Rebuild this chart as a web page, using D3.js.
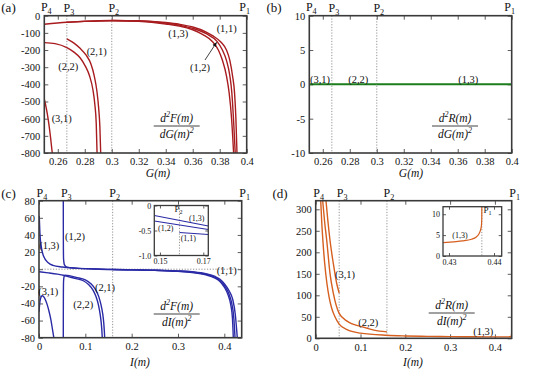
<!DOCTYPE html>
<html>
<head>
<meta charset="utf-8">
<script src="https://cdn.jsdelivr.net/npm/d3@7"></script>
<style>
body{margin:0;background:#fff;}
text{font-family:"Liberation Serif","DejaVu Serif",serif;fill:#111;}
</style>
</head>
<body>
<svg id="fig" width="535" height="371"></svg>
<script>
// phase points P4,P3,P2,P1
var PG = [0.25, 0.2667, 0.3, 0.4];
var PI = [0, 0.0524, 0.159, 0.4373];

// (a) d2F/dG2
var a13 = [[0.25,-50],[0.2667,-38],[0.28,-33],[0.30,-29],[0.32,-33],[0.34,-48],[0.35,-60],[0.36,-82],[0.3675,-110],[0.3745,-150],[0.379,-200],[0.382,-260],[0.385,-350],[0.387,-450],[0.3888,-600],[0.3903,-800]];
var a12 = [[0.2667,-38],[0.28,-32],[0.30,-28],[0.32,-31],[0.34,-43],[0.35,-55],[0.36,-74],[0.37,-105],[0.378,-150],[0.382,-200],[0.385,-260],[0.3875,-350],[0.389,-450],[0.3902,-600],[0.3915,-800]];
var a11 = [[0.30,-27],[0.32,-29],[0.34,-40],[0.35,-50],[0.36,-66],[0.37,-95],[0.375,-118],[0.381,-155],[0.385,-200],[0.3875,-260],[0.3895,-350],[0.391,-450],[0.392,-600],[0.3928,-800]];
var a21 = [[0.2667,-135],[0.272,-160],[0.2765,-190],[0.281,-230],[0.2845,-280],[0.287,-350],[0.289,-440],[0.2903,-540],[0.2912,-650],[0.2918,-800]];
var a22 = [[0.25,-157],[0.258,-163],[0.2667,-186],[0.272,-212],[0.2765,-245],[0.2805,-295],[0.2835,-350],[0.286,-430],[0.2875,-520],[0.2885,-630],[0.2891,-800]];
var a31 = [[0.25,-487],[0.2515,-540],[0.253,-610],[0.2545,-700],[0.2559,-800]];

// (b) d2R/dG2
var b31 = [[0.25,0],[0.2667,0]];
var b22 = [[0.2667,0],[0.3,0]];
var b13 = [[0.3,0],[0.4,0]];

// (c) d2F/dI2
var c13 = [[0.0005,62],[0.002,42],[0.005,26],[0.01,15],[0.02,7.5],[0.03,4.5],[0.05,2.5],[0.08,1.2],[0.12,0.3],[0.1474,-0.2],[0.1723,-0.41],[0.2,-0.8],[0.25,-1.4],[0.3,-2.5],[0.33,-3.8],[0.36,-6.5],[0.38,-10.5],[0.39,-14],[0.40,-21],[0.408,-30],[0.414,-42],[0.4175,-57],[0.4194,-80]];
var c12 = [[0.0524,80],[0.0526,30],[0.053,12],[0.055,5],[0.06,2.5],[0.08,1.2],[0.12,0.2],[0.1474,-0.31],[0.1723,-0.48],[0.2,-0.75],[0.25,-1.2],[0.3,-2.2],[0.33,-3.3],[0.36,-5.8],[0.38,-9.5],[0.39,-13],[0.40,-19],[0.41,-29],[0.416,-40],[0.4205,-57],[0.4231,-80]];
var c11 = [[0.159,-0.54],[0.1723,-0.58],[0.2,-0.7],[0.25,-1.05],[0.3,-2.0],[0.33,-3.0],[0.36,-5.2],[0.38,-8.5],[0.39,-11.5],[0.40,-17],[0.41,-25],[0.418,-35],[0.4235,-52],[0.428,-80]];
var c21 = [[0.0524,-80],[0.0526,-30],[0.053,-14],[0.054,-9],[0.056,-7],[0.065,-7.5],[0.08,-9.5],[0.1,-12.5],[0.112,-17],[0.1222,-24],[0.129,-32],[0.134,-42],[0.1375,-52],[0.1398,-63],[0.141,-72],[0.1418,-80]];
var c22 = [[0,-3],[0.02,-4.3],[0.04,-5.8],[0.0525,-7],[0.065,-9],[0.08,-11],[0.0956,-13.5],[0.107,-18],[0.1172,-25],[0.123,-32],[0.128,-41],[0.1315,-51],[0.1338,-60],[0.1355,-70],[0.1366,-80]];
var c31 = [[0,-50],[0.002,-38],[0.004,-33],[0.007,-31],[0.01,-32],[0.014,-36],[0.018,-42],[0.022,-50],[0.026,-60],[0.029,-70],[0.032,-80]];
// (c) inset
var ci13 = [[0.1474,-0.2],[0.1723,-0.41]];
var ci12 = [[0.1474,-0.31],[0.1723,-0.48]];
var ci11 = [[0.159,-0.54],[0.1723,-0.58]];

// (d) d2R/dI2
var d31 = [[0.023,320],[0.027,275],[0.0319,228],[0.0393,174],[0.0468,128],[0.0524,105]];
var d22 = [[0.0156,320],[0.02,270],[0.0246,228],[0.0319,151],[0.0393,105],[0.0524,58],[0.07,40],[0.1027,27],[0.13,19],[0.159,15]];
var d13 = [[0.0112,320],[0.0135,270],[0.016,228],[0.02,175],[0.025,128],[0.03,95],[0.0357,70],[0.043,50],[0.0524,33],[0.07,20],[0.1,12],[0.159,7],[0.2,5.5],[0.25,4.5],[0.3,3.9],[0.35,3.5],[0.4,3.2],[0.43,3.3],[0.434,3.7],[0.436,4.5],[0.437,6.2],[0.4372,7.2],[0.4373,12]];
// (d) inset
var di13 = [[0.4287,3.2],[0.431,3.4],[0.433,3.6],[0.435,4.0],[0.436,4.5],[0.4366,5.2],[0.437,6.2],[0.4372,7.2],[0.43728,9],[0.4373,12.5]];

var ticksG = [0.26,0.28,0.30,0.32,0.34,0.36,0.38,0.40];
var ticksI = [0,0.1,0.2,0.3,0.4];

var svg = d3.select("#fig");
var RED = "#a81c1f", GREEN = "#1b7d1b", BLUE = "#2a2aa6", ORANGE = "#d65e1e";
var nclip = 0;

function fmt(v){ return String(+v.toFixed(3)); }

function plotBox(o){
  var x = d3.scaleLinear().domain(o.xd).range([o.x0, o.x1]);
  var y = d3.scaleLinear().domain(o.yd).range([o.y1, o.y0]);
  var fs = o.fs || 10.5, tl = o.tl || 4;
  var g = svg.append("g");
  var cid = "clip" + (nclip++);
  svg.append("clipPath").attr("id", cid).append("rect")
    .attr("x", o.x0).attr("y", o.y0).attr("width", o.x1 - o.x0).attr("height", o.y1 - o.y0);
  if (o.bg) g.append("rect").attr("x", o.x0).attr("y", o.y0)
    .attr("width", o.x1 - o.x0).attr("height", o.y1 - o.y0).attr("fill", "#fff");

  // axes with inward ticks
  var axB = g.append("g").attr("transform", "translate(0," + o.y1 + ")")
    .call(d3.axisBottom(x).tickValues(o.xt).tickFormat(fmt).tickSizeInner(-tl).tickSizeOuter(0).tickPadding(o.xpad || 5));
  var axT = g.append("g").attr("transform", "translate(0," + o.y0 + ")")
    .call(d3.axisTop(x).tickValues(o.xt).tickFormat("").tickSizeInner(-tl).tickSizeOuter(0));
  var axL = g.append("g").attr("transform", "translate(" + o.x0 + ",0)")
    .call(d3.axisLeft(y).tickValues(o.yt).tickFormat(o.yf || fmt).tickSizeInner(-tl).tickSizeOuter(0).tickPadding(o.ypad || 4));
  var axR = g.append("g").attr("transform", "translate(" + o.x1 + ",0)")
    .call(d3.axisRight(y).tickValues(o.yt).tickFormat("").tickSizeInner(-tl).tickSizeOuter(0));
  [axB, axT, axL, axR].forEach(function(a){
    a.select(".domain").remove();
    a.selectAll("line").attr("stroke", "#333").attr("stroke-width", 0.8);
    a.selectAll("text").attr("font-size", fs).attr("font-family", '"Liberation Serif",serif').attr("fill", "#111");
  });

  var body = g.append("g").attr("clip-path", "url(#" + cid + ")");
  (o.vdots || []).forEach(function(v){
    body.append("line").attr("x1", x(v)).attr("x2", x(v)).attr("y1", o.y0).attr("y2", o.y1)
      .attr("stroke", "#666").attr("stroke-width", 0.7).attr("stroke-dasharray", "1.2,1.6");
  });
  (o.hdots || []).forEach(function(v){
    body.append("line").attr("x1", o.x0).attr("x2", o.x1).attr("y1", y(v)).attr("y2", y(v))
      .attr("stroke", "#666").attr("stroke-width", 0.7).attr("stroke-dasharray", "1.2,1.6");
  });
  var line = d3.line().x(function(d){ return x(d[0]); }).y(function(d){ return y(d[1]); }).curve(d3.curveMonotoneX);
  o.curves.forEach(function(c){
    body.append("path").attr("d", line(c)).attr("fill", "none")
      .attr("stroke", o.color).attr("stroke-width", o.lw || 1.4);
  });
  g.append("rect").attr("x", o.x0).attr("y", o.y0).attr("width", o.x1 - o.x0).attr("height", o.y1 - o.y0)
    .attr("fill", "none").attr("stroke", "#3a3a3a").attr("stroke-width", o.bw || 1.6);
  return {x: x, y: y, g: g};
}

function txt(x, y, s, fs, anchor){
  return svg.append("text").attr("x", x).attr("y", y).attr("font-size", fs || 10.5)
    .attr("text-anchor", anchor || "middle").text(s);
}
function plabel(x, y, n, fs){
  fs = fs || 12;
  var t = svg.append("text").attr("x", x).attr("y", y).attr("font-size", fs).attr("text-anchor", "middle");
  t.append("tspan").text("P");
  t.append("tspan").attr("font-size", fs * 0.68).attr("dy", fs * 0.25).text(n);
}
function frac(cx, bar, f, v){
  var fs = 11.5;
  var t = svg.append("text").attr("x", cx).attr("y", bar - 4).attr("font-size", fs)
    .attr("text-anchor", "middle").attr("font-style", "italic");
  t.append("tspan").text("d");
  t.append("tspan").attr("font-size", 8).attr("dy", -5).text("2");
  t.append("tspan").attr("dy", 5).text(f + "(m)");
  svg.append("line").attr("x1", cx - 23).attr("x2", cx + 23).attr("y1", bar).attr("y2", bar)
    .attr("stroke", "#111").attr("stroke-width", 0.8);
  var b = svg.append("text").attr("x", cx).attr("y", bar + 12).attr("font-size", fs)
    .attr("text-anchor", "middle").attr("font-style", "italic");
  b.append("tspan").text("d" + v + "(m)");
  b.append("tspan").attr("font-size", 8).attr("dy", -5).text("2");
}
function axTitle(x, y, v){
  var t = svg.append("text").attr("x", x).attr("y", y).attr("font-size", 11.5)
    .attr("text-anchor", "middle").attr("font-style", "italic");
  t.text(v + "(m)");
}

// ---------- (a)
var A = plotBox({x0:44.3, x1:246.7, y0:15.7, y1:153, xd:[0.25,0.4], yd:[-800,0],
  xt:ticksG, yt:d3.range(-800, 1, 100), color:RED, vdots:[PG[1], PG[2]],
  curves:[a13, a12, a11, a21, a22, a31]});
txt(8.5, 12, "(a)", 13);
plabel(A.x(PG[0]) + 2, 11, "4"); plabel(A.x(PG[1]) + 2, 12, "3"); plabel(A.x(PG[2]) + 2, 12, "2"); plabel(A.x(PG[3]) - 2, 11, "1");
txt(178.3, 37, "(1,3)"); txt(226.7, 32, "(1,1)"); txt(200, 70.5, "(1,2)");
txt(96.7, 54.5, "(2,1)"); txt(68.3, 69.5, "(2,2)"); txt(61.7, 122, "(3,1)");
svg.append("defs").append("marker").attr("id", "arr").attr("viewBox", "0 0 10 10")
  .attr("refX", 9).attr("refY", 5).attr("markerWidth", 6).attr("markerHeight", 6).attr("orient", "auto")
  .append("path").attr("d", "M0,1 L10,5 L0,9 z").attr("fill", "#111");
svg.append("line").attr("x1", 205).attr("y1", 60).attr("x2", 216.5).attr("y2", 42.5)
  .attr("stroke", "#111").attr("stroke-width", 0.8).attr("marker-end", "url(#arr)");
frac(176.7, 126, "F", "G");
axTitle(158, 177, "G");

// ---------- (b)
var B = plotBox({x0:309.3, x1:511.7, y0:15.7, y1:153, xd:[0.25,0.4], yd:[-10,10],
  xt:ticksG, yt:[-10,-5,0,5,10], color:GREEN, lw:2, vdots:[PG[1], PG[2]],
  curves:[b31, b22, b13]});
txt(274, 12, "(b)", 13);
plabel(B.x(PG[0]) + 2, 11, "4"); plabel(B.x(PG[1]) + 2, 12, "3"); plabel(B.x(PG[2]) + 2, 12, "2"); plabel(B.x(PG[3]) - 2, 11, "1");
txt(320, 82.5, "(3,1)"); txt(358.3, 82.5, "(2,2)"); txt(468.3, 82.5, "(1,3)");
frac(455, 126, "R", "G");
axTitle(411, 177, "G");

// ---------- (c)
var C = plotBox({x0:39, x1:241.7, y0:200.7, y1:337.7, xd:[0, 0.4375], yd:[-80,80],
  xt:ticksI, yt:d3.range(-80, 81, 20), color:BLUE, vdots:[PI[2]], hdots:[0],
  curves:[c13, c12, c11, c21, c22, c31]});
txt(8.5, 198, "(c)", 13);
plabel(C.x(PI[0]) + 3, 197, "4"); plabel(C.x(PI[1]) + 3, 197, "3"); plabel(C.x(PI[2]) + 2, 197, "2"); plabel(C.x(PI[3]) + 3, 197, "1");
txt(49.3, 248.5, "(1,3)"); txt(75, 240, "(1,2)"); txt(48.3, 295, "(3,1)");
txt(83.3, 307.5, "(2,2)"); txt(105, 290.5, "(2,1)"); txt(226.7, 273.5, "(1,1)");
frac(176.7, 314, "F", "I");
axTitle(140, 366, "I");
// inset (c)
var CI = plotBox({x0:154.3, x1:208.3, y0:205.5, y1:255.5, xd:[0.1474,0.1723], yd:[-1,0],
  xt:[0.15,0.17], yt:[-1,-0.5,0], yf:function(v){ return v === -1 ? "-1.0" : String(v); },
  fs:8, tl:3, xpad:3, ypad:3, bw:1.3, lw:1.2, bg:true, color:BLUE, vdots:[PI[2]],
  curves:[ci13, ci12, ci11]});
plabel(178.5, 212, "2", 9);
txt(196.7, 220.5, "(1,3)", 8); txt(165.7, 231, "(1,2)", 8); txt(188.3, 241, "(1,1)", 8);

// ---------- (d)
var D = plotBox({x0:315.7, x1:511.7, y0:200.7, y1:338.3, xd:[0, 0.4375], yd:[0,320],
  xt:ticksI, yt:d3.range(0, 301, 50), color:ORANGE, vdots:[PI[1], PI[2]],
  curves:[d31, d22, d13]});
txt(280, 198, "(d)", 13);
plabel(D.x(PI[0]) + 3, 197, "4"); plabel(D.x(PI[1]) + 3, 197, "3"); plabel(D.x(PI[2]) + 2, 197, "2"); plabel(D.x(PI[3]) + 3, 197, "1");
txt(345, 277.5, "(3,1)"); txt(368.3, 326, "(2,2)"); txt(483.3, 335, "(1,3)");
frac(451.7, 313, "R", "I");
axTitle(413, 366, "I");
// inset (d)
var DI = plotBox({x0:443, x1:501.7, y0:206.7, y1:256, xd:[0.42867,0.44171], yd:[0,11.8],
  xt:[0.43,0.44], yt:[0,5,10], fs:8, tl:3, xpad:3, ypad:3, bw:1.3, lw:1.2, bg:true,
  color:ORANGE, vdots:[PI[3]], curves:[di13]});
plabel(487.5, 213, "1", 9);
txt(460, 237.5, "(1,3)", 8);
</script>
</body>
</html>
